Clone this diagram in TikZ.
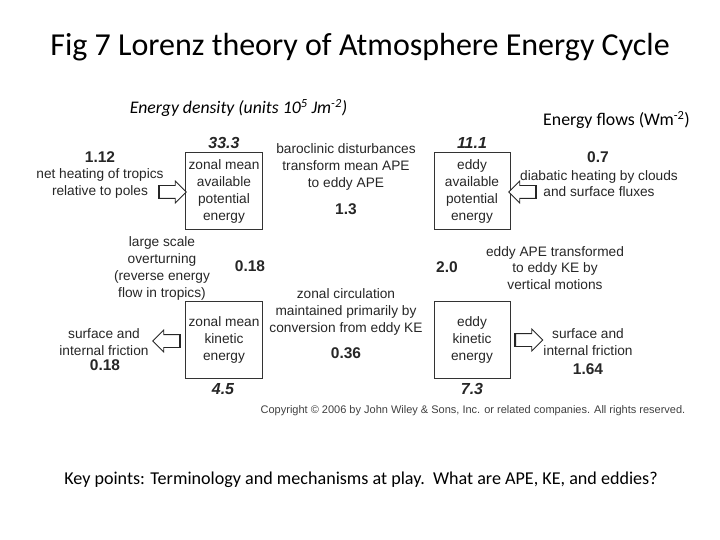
\documentclass[tikz,border=0pt]{standalone}
\usepackage{fontspec}
\setmainfont{Liberation Sans}
\newfontfamily\calibri{Carlito}
\usepackage{tikz}
\usetikzlibrary{shapes}
\usetikzlibrary{shapes.arrows}
\tikzset{box/.style={rectangle, draw=black!80, line width=1pt, minimum width=76pt, minimum height=77pt, align=center, text=black!85, font=\fontsize{13.7}{16.7}\selectfont}}
\tikzset{note/.style={align=center, text=black!85, font=\fontsize{13.7}{16.7}\selectfont}}
\tikzset{num/.style={text=black!85, font=\fontsize{15.5}{18}\selectfont\bfseries}}
\tikzset{stock/.style={text=black!85, font=\fontsize{16}{18}\selectfont\bfseries\itshape}}
\tikzset{flow/.style={single arrow, draw=black!85, fill=white, line width=.8pt, inner xsep=0pt, inner ysep=6pt, minimum height=27pt, single arrow head extend=4.5pt}}

\begin{document}
\begin{tikzpicture}[x=1pt,y=-1pt]
  \useasboundingbox (0,0) rectangle (720,540);
  \node[font=\calibri\fontsize{32}{36}\selectfont] (title) at (360,47) {Fig 7 Lorenz theory of Atmosphere Energy Cycle};
  \node[font=\calibri\itshape\fontsize{17.7}{20}\selectfont] (dens) at (238.5,108) {Energy density (units 10\textsuperscript{5} Jm\textsuperscript{-2})};
  \node[font=\calibri\fontsize{17.8}{20}\selectfont] (flows) at (616.5,120) {Energy flows (Wm\textsuperscript{-2})};
  \foreach \x/\y/\lab/\txt in {
    224/191.5/zape/{zonal mean\\available\\potential\\energy},
    472/191.5/eape/{eddy\\available\\potential\\energy},
    224/340/zke/{zonal mean\\kinetic\\energy},
    472/340/eke/{eddy\\kinetic\\energy}%
  } {
    \node[box] (\lab) at (\x, \y) {\txt};
  }
  \foreach \x/\y/\lab/\val in {
    224/143/szape/33.3,
    472/143/seape/11.1,
    223/389/szke/4.5,
    472/389/seke/7.3%
  } {
    \node[stock] (\lab) at (\x, \y) {\val};
  }
  \foreach \x/\y/\lab/\val in {
    100/157/fheat/1.12,
    598/157/fdiab/0.7,
    346/209/fbaro/1.3,
    250/266/fover/0.18,
    447/267/fvert/2.0,
    346/353/fzonal/0.36,
    105/365/fzfric/0.18,
    588/369/fefric/1.64%
  } {
    \node[num] (\lab) at (\x, \y) {\val};
  }
  \node[note] (heat) at (100,183.5) {net heating of tropics\\relative to poles};
  \node[note] (diab) at (599,183.5) {diabatic heating by clouds\\and surface fluxes};
  \node[note] (baro) at (346,167) {baroclinic disturbances\\transform mean APE\\to eddy APE};
  \node[note] (over) at (162,268.5) {large scale\\overturning\\(reverse energy\\flow in tropics)};
  \node[note] (vert) at (555,268) {eddy APE transformed\\to eddy KE by\\vertical motions};
  \node[note] (zonal) at (346,312) {zonal circulation\\maintained primarily by\\conversion from eddy KE};
  \node[note] (zfric) at (104,342) {surface and\\internal friction};
  \node[note] (efric) at (588,342) {surface and\\internal friction};
  % block arrows for the flows in and out
  \node[flow] (aheat) at (169.5,192) {};
  \node[flow, shape border rotate=180] (adiab) at (525.5,192) {};
  \node[flow, shape border rotate=180] (azfric) at (169.5,341) {};
  \node[flow] (aefric) at (526,340) {};
  \foreach \a in {aheat,adiab,azfric,aefric} {
    \draw[line width=2.2pt, black!85] (\a.before tail) -- (\a.after tail);
  }
  \node[text=black!75, font=\fontsize{11}{13}\selectfont] (copy) at (473,411) {Copyright \textcopyright{} 2006 by John Wiley \& Sons, Inc. or related companies. All rights reserved.};
  \node[font=\calibri\fontsize{18.1}{21}\selectfont] (key) at (361,480) {Key points: Terminology and mechanisms at play.\ \ What are APE, KE, and eddies?};
\end{tikzpicture}
\end{document}
